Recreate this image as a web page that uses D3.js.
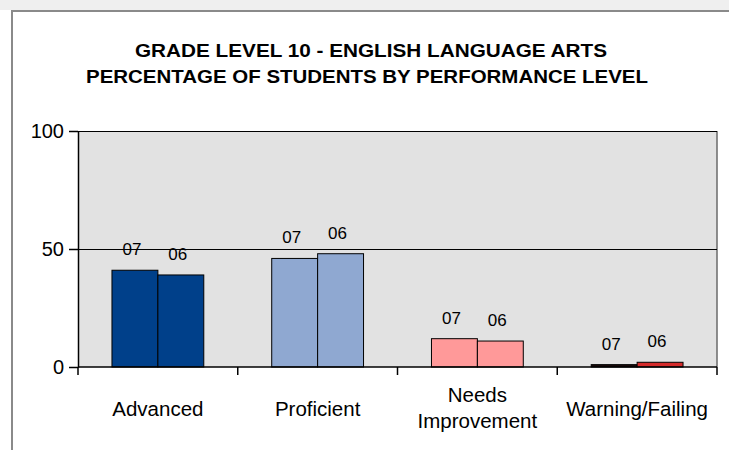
<!DOCTYPE html>
<html>
<head>
    <title>Grade Level 10 - ELA</title>
    <script src="https://d3js.org/d3.v7.min.js"></script>
    <style>
        body { margin: 0; background: #fff; }
        svg { display: block; font-family: "Liberation Sans", Arial, sans-serif; }
    </style>
</head>
<body>
    <div id="chart"></div>

    <script>
        var categories = ["Advanced", "Proficient", "Needs Improvement", "Warning/Failing"];
        var series = ["07", "06"];
        var values07 = [41, 46, 12, 1];
        var values06 = [39, 48, 11, 2];
        var yTicks = [0, 50, 100];
        var titleLines = ["GRADE LEVEL 10 - ENGLISH LANGUAGE ARTS",
                          "PERCENTAGE OF STUDENTS BY PERFORMANCE LEVEL"];
        var barColors = {
            "Advanced": ["#00408a", "#00408a"],
            "Proficient": ["#8fa8d1", "#8fa8d1"],
            "Needs Improvement": ["#ff9999", "#ff9999"],
            "Warning/Failing": ["#1a0a0a", "#d42a2a"]
        };

        var width = 729, height = 450;
        var plot = {left: 78, right: 717, top: 131, bottom: 367};

        var svg = d3.select("#chart").append("svg")
            .attr("width", width).attr("height", height);

        // window-like frame: grey band at the top, grey border line
        svg.append("rect").attr("x", 0).attr("y", 0).attr("width", width).attr("height", 10).attr("fill", "#efefef");
        svg.append("path").attr("d", "M12," + height + "V11H" + width)
            .attr("fill", "none").attr("stroke", "#8a8a8a").attr("stroke-width", 2);

        // title
        var titleWidths = [472, 562];
        svg.selectAll(".title").data(titleLines).enter().append("text")
            .attr("class", "title")
            .attr("x", function(d, i) { return i === 0 ? 371 : 367; })
            .attr("y", function(d, i) { return 57 + i * 26; })
            .attr("text-anchor", "middle")
            .attr("font-size", 18).attr("font-weight", "bold")
            .attr("textLength", function(d, i) { return titleWidths[i]; })
            .attr("lengthAdjust", "spacingAndGlyphs")
            .text(function(d) { return d; });

        var x = d3.scaleBand().domain(categories).range([plot.left, plot.right]).padding(0);
        var x1 = d3.scaleBand().domain(series).range([0, x.bandwidth()]).paddingInner(0).paddingOuter(0.74);
        var y = d3.scaleLinear().domain([0, 100]).range([plot.bottom, plot.top]);

        // plot area
        svg.append("rect")
            .attr("x", plot.left).attr("y", plot.top)
            .attr("width", plot.right - plot.left).attr("height", plot.bottom - plot.top)
            .attr("fill", "#e2e2e2");
        svg.append("line")
            .attr("x1", plot.right).attr("x2", plot.right)
            .attr("y1", plot.top).attr("y2", plot.bottom)
            .attr("stroke", "#6a6a6a").attr("stroke-width", 1.5);

        // gridlines
        svg.selectAll(".grid").data(yTicks.filter(function(d) { return d > 0; })).enter().append("line")
            .attr("class", "grid")
            .attr("x1", plot.left).attr("x2", plot.right)
            .attr("y1", function(d) { return y(d) + 0.5; }).attr("y2", function(d) { return y(d) + 0.5; })
            .attr("stroke", "#000");

        // bars
        var rows = categories.map(function(c, i) {
            return [{cat: c, s: "07", v: values07[i], col: barColors[c][0]},
                    {cat: c, s: "06", v: values06[i], col: barColors[c][1]}];
        });
        var flat = [].concat.apply([], rows);

        svg.selectAll(".bar").data(flat).enter().append("rect")
            .attr("class", "bar")
            .attr("x", function(d) { return x(d.cat) + x1(d.s); })
            .attr("width", x1.bandwidth())
            .attr("y", function(d) { return y(d.v); })
            .attr("height", function(d) { return y(0) - y(d.v); })
            .attr("fill", function(d) { return d.col; })
            .attr("stroke", "#000").attr("stroke-width", 1);

        svg.selectAll(".lbl").data(flat).enter().append("text")
            .attr("class", "lbl")
            .attr("x", function(d) { return x(d.cat) + x1(d.s) + x1.bandwidth() / 2 - 3; })
            .attr("y", function(d) { return y(d.v) - 15; })
            .attr("text-anchor", "middle")
            .attr("font-size", 17)
            .attr("fill", "#000")
            .text(function(d) { return d.s; });

        // y axis
        var yAxis = svg.append("g")
            .attr("transform", "translate(" + plot.left + ",0)")
            .call(d3.axisLeft(y).tickValues(yTicks).tickSize(9).tickSizeOuter(0).tickPadding(5));
        yAxis.select(".domain").attr("stroke", "#000").attr("stroke-width", 1.5);
        yAxis.selectAll("line").attr("stroke-width", 1.5);
        yAxis.selectAll("text").attr("font-size", 20).attr("font-family", "Liberation Sans, Arial, sans-serif").attr("fill", "#000");

        // x axis line and category boundary ticks
        svg.append("line")
            .attr("x1", plot.left).attr("x2", plot.right)
            .attr("y1", plot.bottom).attr("y2", plot.bottom)
            .attr("stroke", "#000").attr("stroke-width", 1.5);
        var bounds = categories.map(function(c) { return x(c); }).concat([plot.right]);
        svg.selectAll(".xtick").data(bounds).enter().append("line")
            .attr("class", "xtick")
            .attr("x1", function(d) { return d; }).attr("x2", function(d) { return d; })
            .attr("y1", plot.bottom).attr("y2", plot.bottom + 8)
            .attr("stroke", "#000").attr("stroke-width", 1.5);

        // category labels
        var catLabels = svg.selectAll(".cat").data(categories).enter().append("text")
            .attr("class", "cat")
            .attr("text-anchor", "middle")
            .attr("font-size", 20.5)
            .attr("fill", "#000");
        catLabels.each(function(c) {
            var words = c === "Needs Improvement" ? ["Needs", "Improvement"] : [c];
            var cx = x(c) + x.bandwidth() / 2;
            var t = d3.select(this);
            words.forEach(function(w, i) {
                t.append("tspan")
                    .attr("x", cx)
                    .attr("y", words.length === 1 ? 416 : 402 + i * 26)
                    .text(w);
            });
        });
    </script>
</body>
</html>
